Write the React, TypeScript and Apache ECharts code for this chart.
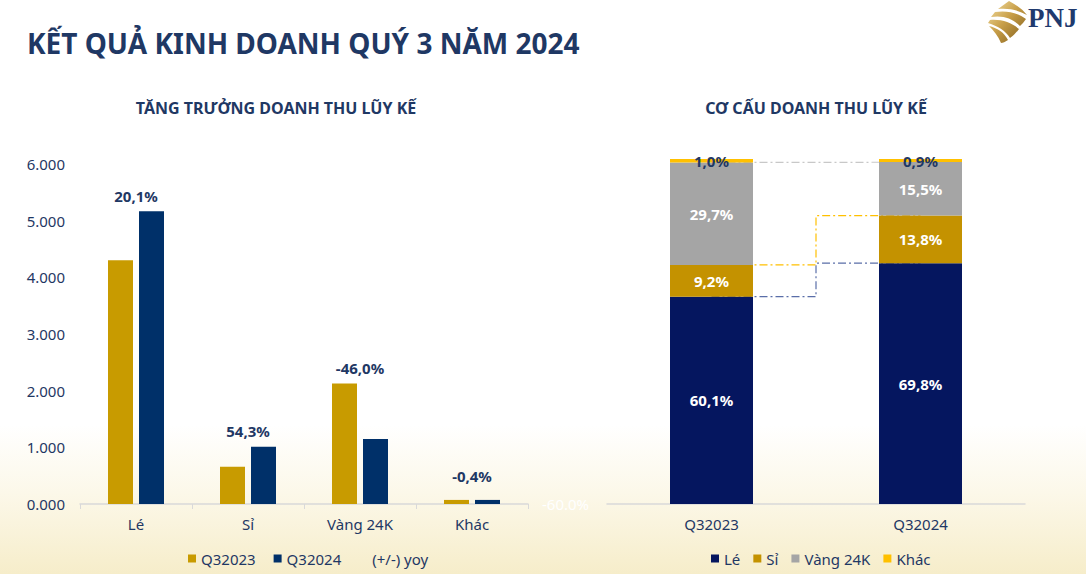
import React, { useEffect, useRef } from 'react';
import * as echarts from 'echarts';

// ---- Data: left chart (revenue, bn VND) ----
const categories = ['Lé', 'Sỉ', 'Vàng 24K', 'Khác'];
const q32023 = [4300, 656, 2125, 72];
const q32024 = [5164, 1012, 1148, 72];
const yoy = [20.1, 54.3, -46.0, -0.4];

// ---- Data: right chart (revenue structure, %) ----
const periods = ['Q32023', 'Q32024'];
const shareLe = [60.1, 69.8];
const shareSi = [9.2, 13.8];
const shareVang = [29.7, 15.5];
const shareKhac = [1.0, 0.9];

const NAVY_TEXT = '#1f3864';
const FONT = 'Noto Sans';

let logoRegistered = false;
function registerLogo() {
  if (logoRegistered) return;
  const d =
    'M22 0 C30 4 36 9 40 14 C31 9 22 7 11 8 Z ' +
    'M8 11 C20 9 31 12 39 18 C37 21 35 23 33 25 C26 18 17 14 4 16 Z ' +
    'M3 19 C15 18 25 22 32 28 C29 32 26 35 23 37 C19 30 11 25 1 22 Z ' +
    'M2 25 C10 27 17 31 21 39 C18 41 16 42 14 42 C11 35 7 30 2 25 Z';
  echarts.graphic.registerShape('logo', echarts.graphic.extendPath(d, {}));
  logoRegistered = true;
}

const fmtThousands = (v: number) => {
  const k = Math.floor(v / 1000);
  const r = String(Math.round(v % 1000)).padStart(3, '0');
  return k + '.' + r;
};
const fmtPct = (v: number) => v.toFixed(1).replace('.', ',') + '%';

export default function App() {
  const ref = useRef<HTMLDivElement>(null);
  useEffect(() => {
    if (!ref.current) return;
    registerLogo();
    const chart = echarts.init(ref.current, undefined, { renderer: 'svg' });

    const maxVals = q32023.map((v, i) => Math.max(v, q32024[i]));
    const cumLe = shareLe.slice();
    const cumSi = shareLe.map((v, i) => v + shareSi[i]);
    const cumVang = shareLe.map((v, i) => v + shareSi[i] + shareVang[i]);

    const connector = (name: string, data: number[], color: string) => ({
      name,
      type: 'line',
      xAxisIndex: 1,
      yAxisIndex: 2,
      data,
      step: 'middle',
      symbol: 'none',
      z: 1,
      silent: true,
      lineStyle: { color, width: 1.2, type: [8, 3, 2, 3] },
    });

    const stackLabel = (color: string) => ({
      show: true,
      position: 'inside',
      color,
      fontFamily: FONT,
      fontWeight: 'bold',
      fontSize: 15,
      formatter: (p: any) => fmtPct(p.value),
    });

    chart.setOption({
      animation: false,
      backgroundColor: 'transparent',
      textStyle: { fontFamily: FONT },
      graphic: [
        {
          type: 'text',
          left: 27,
          top: 29,
          style: {
            text: 'KẾT QUẢ KINH DOANH QUÝ 3 NĂM 2024',
            font: 'bold 28px "Noto Sans"',
            fill: NAVY_TEXT,
          },
        },
        {
          type: 'text',
          x: 276,
          y: 108,
          style: {
            text: 'TĂNG TRƯỞNG DOANH THU LŨY KẾ',
            font: 'bold 16px "Noto Sans"',
            fill: NAVY_TEXT,
            align: 'center',
            verticalAlign: 'middle',
          },
        },
        {
          type: 'text',
          x: 816,
          y: 108,
          style: {
            text: 'CƠ CẤU DOANH THU LŨY KẾ',
            font: 'bold 16px "Noto Sans"',
            fill: NAVY_TEXT,
            align: 'center',
            verticalAlign: 'middle',
          },
        },
        {
          type: 'logo',
          x: 987,
          y: 1,
          style: {
            fill: new echarts.graphic.LinearGradient(0, 0, 1, 1, [
              { offset: 0, color: '#f5e2a8' },
              { offset: 0.45, color: '#c9a04a' },
              { offset: 1, color: '#7d5a18' },
            ]),
          },
        },
        {
          type: 'text',
          x: 1028,
          y: 18,
          style: {
            text: 'PNJ',
            font: 'bold 27px "Liberation Serif"',
            fill: '#1f3a6e',
            verticalAlign: 'middle',
          },
        },
      ],
      legend: [
        {
          left: 183,
          top: 546,
          itemWidth: 8,
          itemHeight: 8,
          itemGap: 18,
          icon: 'rect',
          textStyle: { color: NAVY_TEXT, fontSize: 15, fontFamily: FONT },
          data: [
            { name: 'Q32023' },
            { name: 'Q32024' },
            { name: '(+/-) yoy', itemStyle: { color: 'rgba(0,0,0,0)' } },
          ],
        },
        {
          left: 706,
          top: 546,
          itemWidth: 8,
          itemHeight: 8,
          itemGap: 13,
          icon: 'rect',
          textStyle: { color: NAVY_TEXT, fontSize: 15, fontFamily: FONT },
          data: ['Lé', 'Sỉ', 'Vàng 24K', 'Khác'],
        },
      ],
      grid: [
        { left: 80, right: 558, top: 164, bottom: 70 },
        { left: 607, right: 61, top: 159, bottom: 70 },
      ],
      xAxis: [
        {
          type: 'category',
          gridIndex: 0,
          data: categories,
          axisLine: { lineStyle: { color: '#d9d9d9', width: 1.5 } },
          axisTick: { show: true, length: 5, lineStyle: { color: '#d9d9d9' } },
          axisLabel: { color: NAVY_TEXT, fontSize: 15, fontFamily: FONT, margin: 12 },
        },
        {
          type: 'category',
          gridIndex: 1,
          data: periods,
          axisLine: { lineStyle: { color: '#d9d9d9', width: 1.5 } },
          axisTick: { show: false },
          axisLabel: { color: NAVY_TEXT, fontSize: 15, fontFamily: FONT, margin: 12 },
        },
      ],
      yAxis: [
        {
          type: 'value',
          gridIndex: 0,
          min: 0,
          max: 6000,
          interval: 1000,
          splitLine: { show: false },
          axisLine: { show: false },
          axisTick: { show: false },
          axisLabel: {
            color: NAVY_TEXT,
            fontSize: 15,
            fontFamily: FONT,
            margin: 15,
            formatter: (v: number) => fmtThousands(v),
          },
        },
        {
          type: 'value',
          gridIndex: 0,
          position: 'right',
          min: -0.6,
          max: 0.6,
          interval: 0.2,
          splitLine: { show: false },
          axisLine: { show: false },
          axisTick: { show: false },
          axisLabel: {
            color: '#ffffff',
            fontSize: 15,
            fontFamily: FONT,
            margin: 14,
            formatter: (v: number) => (Math.abs(v + 0.6) < 1e-6 ? '-60.0%' : ''),
          },
        },
        {
          type: 'value',
          gridIndex: 1,
          min: 0,
          max: 100,
          show: false,
          splitLine: { show: false },
        },
      ],
      series: [
        {
          name: 'Q32023',
          type: 'bar',
          xAxisIndex: 0,
          yAxisIndex: 0,
          data: q32023,
          barWidth: 25,
          barGap: '24%',
          itemStyle: { color: '#c89b00' },
        },
        {
          name: 'Q32024',
          type: 'bar',
          xAxisIndex: 0,
          yAxisIndex: 0,
          data: q32024,
          barWidth: 25,
          barGap: '24%',
          itemStyle: { color: '#003069' },
        },
        {
          name: '(+/-) yoy',
          type: 'scatter',
          xAxisIndex: 0,
          yAxisIndex: 0,
          symbolSize: 2,
          z: 5,
          itemStyle: { color: 'rgba(0,0,0,0)', opacity: 1 },
          data: maxVals.map((v, i) => ({
            value: v,
            label: { distance: i === 3 ? 15 : 7 },
          })),
          label: {
            show: true,
            position: 'top',
            color: NAVY_TEXT,
            fontFamily: FONT,
            fontWeight: 'bold',
            fontSize: 15,
            formatter: (p: any) => fmtPct(yoy[p.dataIndex]),
          },
        },
        connector('c-le', cumLe, '#5a6ea8'),
        connector('c-si', cumSi, '#ffc000'),
        connector('c-vang', cumVang, '#c8c8c8'),
        {
          name: 'Lé',
          type: 'bar',
          xAxisIndex: 1,
          yAxisIndex: 2,
          stack: 'share',
          barWidth: 83,
          z: 3,
          data: shareLe,
          itemStyle: { color: '#05165f' },
          label: stackLabel('#ffffff'),
        },
        {
          name: 'Sỉ',
          type: 'bar',
          xAxisIndex: 1,
          yAxisIndex: 2,
          stack: 'share',
          barWidth: 83,
          z: 3,
          data: shareSi,
          itemStyle: { color: '#c49200' },
          label: stackLabel('#ffffff'),
        },
        {
          name: 'Vàng 24K',
          type: 'bar',
          xAxisIndex: 1,
          yAxisIndex: 2,
          stack: 'share',
          barWidth: 83,
          z: 3,
          data: shareVang,
          itemStyle: { color: '#a5a5a5' },
          label: stackLabel('#ffffff'),
        },
        {
          name: 'Khác',
          type: 'bar',
          xAxisIndex: 1,
          yAxisIndex: 2,
          stack: 'share',
          barWidth: 83,
          z: 3,
          data: shareKhac,
          itemStyle: { color: '#ffc000' },
          label: stackLabel(NAVY_TEXT),
        },
      ],
    });

    return () => chart.dispose();
  }, []);

  return (
    <div
      style={{
        position: 'absolute',
        left: 0,
        top: 0,
        width: 1086,
        height: 574,
        background:
          'linear-gradient(to bottom, #ffffff 0%, #ffffff 74%, #fcf8e9 86%, #f6edca 100%)',
      }}
    >
      <div ref={ref} style={{ width: 1086, height: 574 }} />
    </div>
  );
}
